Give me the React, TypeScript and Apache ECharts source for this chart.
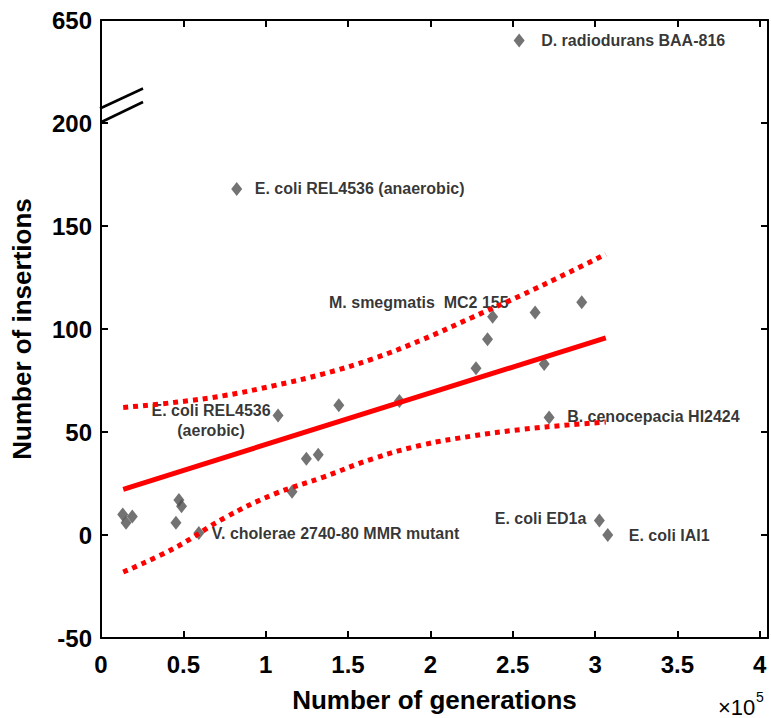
import React, { useEffect, useRef } from 'react';
import * as echarts from 'echarts';

// ---- data ----
const generations = [13200, 15200, 19000, 45500, 47300, 48900, 59400, 82400, 107500, 116000, 124700, 131900, 144400, 181200, 227700, 234700, 237800, 253900, 263600, 269100, 272100, 291900, 302600, 307700];
const insertions = [10, 6, 9, 6, 17, 14, 1, 168, 58, 21, 37, 39, 63, 65, 81, 95, 106, 560, 108, 83, 57, 113, 7, 0];
const strains = ['', '', '', '', '', '', 'V. cholerae 2740-80 MMR mutant', 'E. coli REL4536 (anaerobic)', 'E. coli REL4536\n(aerobic)', '', '', '', '', '', '', '', 'M. smegmatis  MC2 155', 'D. radiodurans BAA-816', '', '', 'B. cenocepacia HI2424', '', 'E. coli ED1a', 'E. coli IAI1'];

const fitX = [13500, 306500];
const fitY = [22.2, 95.7];
const bandX = [13500, 45000, 75000, 105000, 135000, 165000, 195000, 225000, 255000, 285000, 306500];
const upperY = [61.9, 64.4, 67.7, 72.5, 78.2, 85.5, 94.8, 105.5, 116.3, 127.8, 136.3];
const lowerY = [-18.0, -6.2, 8.3, 19.8, 28.1, 37.0, 43.7, 48.0, 51.2, 53.5, 54.8];

const xTickValues = [0, 50000, 100000, 150000, 200000, 250000, 300000, 350000, 400000];
const xTickLabels = ['0', '0.5', '1', '1.5', '2', '2.5', '3', '3.5', '4'];
const yTickValues = [-50, 0, 50, 100, 150, 200, 250];
const yTickLabels = ['-50', '0', '50', '100', '150', '200', '650'];

// broken axis: 200..650 is drawn in the span 200..250
const BREAK_LOW = 200;
const BREAK_HIGH = 650;
const BREAK_SPAN = 50;
const toAxis = (v: number) => (v <= BREAK_LOW ? v : BREAK_LOW + ((v - BREAK_LOW) * BREAK_SPAN) / (BREAK_HIGH - BREAK_LOW));

// ---- layout / styles ----
const FONT = "'Liberation Sans', Arial, Helvetica, sans-serif";
const SYM_W = 11;
const SYM_H = 14;
const labelLayout: Record<number, { dx: number; dy: number; align: string }> = {
  6: { dx: 13, dy: 1, align: 'left' },
  7: { dx: 18, dy: 0, align: 'left' },
  8: { dx: -67, dy: 5, align: 'center' },
  16: { dx: 16, dy: -14, align: 'right' },
  17: { dx: 22, dy: 0, align: 'left' },
  20: { dx: 18, dy: -1, align: 'left' },
  22: { dx: -13, dy: -2, align: 'right' },
  23: { dx: 21, dy: 0, align: 'left' },
};

export default function App() {
  const ref = useRef<HTMLDivElement>(null);
  useEffect(() => {
    if (!ref.current) return;
    const chart = echarts.init(ref.current, undefined, { renderer: 'svg' });

    const scatterData = generations.map((g, i) => {
      const item: any = { value: [g, toAxis(insertions[i])], name: strains[i] };
      const lay = labelLayout[i];
      if (strains[i] && lay) {
        item.label = {
          show: true,
          formatter: strains[i],
          position: [lay.dx + SYM_W / 2, lay.dy + SYM_H / 2],
          align: lay.align,
          verticalAlign: 'middle',
          fontFamily: FONT,
          fontWeight: 'bold',
          fontSize: 16,
          lineHeight: 20,
          color: '#000',
        };
      }
      return item;
    });

    const axisLineStyle = { color: '#000', width: 2 };
    const tickStyle = { show: true, inside: true, length: 7, lineStyle: { color: '#000', width: 2 } };
    const labelStyle = { color: '#000', fontFamily: FONT, fontWeight: 'bold' as const, fontSize: 24 };
    const bandStyle = { color: '#ff0000', width: 5, type: [5, 5], cap: 'butt' };

    chart.setOption({
      animation: false,
      backgroundColor: '#fff',
      grid: { left: 101, top: 20, width: 668, height: 621, containLabel: false },
      xAxis: [
        {
          type: 'value',
          position: 'bottom',
          min: 0,
          max: 405000,
          interval: 50000,
          axisLine: { show: true, onZero: false, lineStyle: axisLineStyle },
          axisTick: tickStyle,
          splitLine: { show: false },
          axisLabel: {
            ...labelStyle,
            margin: 14,
            formatter: (v: number) => {
              const k = xTickValues.indexOf(v);
              return k >= 0 ? xTickLabels[k] : '';
            },
          },
          name: 'Number of generations',
          nameLocation: 'middle',
          nameGap: 49,
          nameTextStyle: { color: '#000', fontFamily: FONT, fontWeight: 'bold', fontSize: 26 },
        },
        {
          type: 'value',
          position: 'top',
          min: 0,
          max: 405000,
          interval: 50000,
          axisLine: { show: true, onZero: false, lineStyle: axisLineStyle },
          axisTick: tickStyle,
          splitLine: { show: false },
          axisLabel: { show: false },
        },
      ],
      yAxis: [
        {
          type: 'value',
          position: 'left',
          min: -50,
          max: 250,
          interval: 50,
          axisLine: { show: true, onZero: false, lineStyle: axisLineStyle },
          axisTick: tickStyle,
          splitLine: { show: false },
          axisLabel: {
            ...labelStyle,
            margin: 9,
            formatter: (v: number) => {
              const k = yTickValues.indexOf(v);
              return k >= 0 ? yTickLabels[k] : '';
            },
          },
          name: 'Number of insertions',
          nameLocation: 'middle',
          nameGap: 66,
          nameTextStyle: { color: '#000', fontFamily: FONT, fontWeight: 'bold', fontSize: 26 },
        },
        {
          type: 'value',
          position: 'right',
          min: -50,
          max: 250,
          interval: 50,
          axisLine: { show: true, onZero: false, lineStyle: axisLineStyle },
          axisTick: tickStyle,
          splitLine: { show: false },
          axisLabel: { show: false },
        },
      ],
      series: [
        {
          type: 'scatter',
          xAxisIndex: 0,
          yAxisIndex: 0,
          symbol: 'diamond',
          symbolSize: [SYM_W, SYM_H],
          itemStyle: { color: '#505050' },
          data: scatterData,
          z: 2,
        },
        {
          type: 'line',
          xAxisIndex: 0,
          yAxisIndex: 0,
          data: fitX.map((x, i) => [x, fitY[i]]),
          symbol: 'none',
          lineStyle: { color: '#ff0000', width: 5 },
          z: 3,
        },
        {
          type: 'line',
          xAxisIndex: 0,
          yAxisIndex: 0,
          smooth: 0.4,
          data: bandX.map((x, i) => [x, upperY[i]]),
          symbol: 'none',
          lineStyle: bandStyle,
          z: 3,
        },
        {
          type: 'line',
          xAxisIndex: 0,
          yAxisIndex: 0,
          smooth: 0.4,
          data: bandX.map((x, i) => [x, lowerY[i]]),
          symbol: 'none',
          lineStyle: bandStyle,
          z: 3,
        },
      ],
    });

    const p = chart.convertToPixel({ xAxisIndex: 0, yAxisIndex: 0 }, [0, BREAK_LOW]) as number[];
    const bx = p[0];
    const by = p[1];
    chart.setOption({
      graphic: [
        {
          type: 'line',
          shape: { x1: bx - 1, y1: by - 14.5, x2: bx + 42, y2: by - 34.5 },
          style: { stroke: '#000', lineWidth: 2.5 },
          z: 10,
        },
        {
          type: 'line',
          shape: { x1: bx + 0.5, y1: by - 1, x2: bx + 42, y2: by - 21 },
          style: { stroke: '#000', lineWidth: 2.5 },
          z: 10,
        },
        {
          type: 'text',
          x: 718,
          y: 707,
          style: { text: '×10', fill: '#000', font: `22px ${FONT}`, verticalAlign: 'middle', textVerticalAlign: 'middle' },
          z: 10,
        },
        {
          type: 'text',
          x: 756,
          y: 697,
          style: { text: '5', fill: '#000', font: `14px ${FONT}`, verticalAlign: 'middle', textVerticalAlign: 'middle' },
          z: 10,
        },
      ],
    });

    return () => chart.dispose();
  }, []);

  return (
    <div
      ref={ref}
      style={{ position: 'fixed', left: 0, top: 0, width: 771, height: 718, background: '#fff' }}
    />
  );
}
